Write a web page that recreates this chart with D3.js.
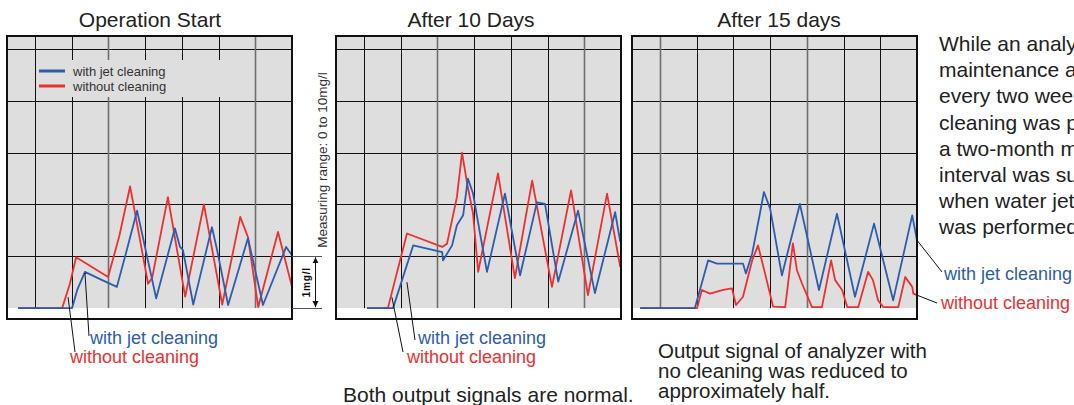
<!DOCTYPE html>
<html>
<head>
<meta charset="utf-8">
<script src="https://cdn.jsdelivr.net/npm/d3@7"></script>
<style>
  body { margin: 0; background: #fff; }
  text { font-family: "Liberation Sans", Arial, Helvetica, sans-serif; }
</style>
</head>
<body>
<script>
  // chart values (x: grid divisions, y: mg/l)
  const titles = ['Operation Start', 'After 10 Days', 'After 15 days'];
  const gridTimes = [0, 1, 2, 3, 4, 5, 6];
  const gridLevels = [1, 2, 3, 4, 5];

  const startJet = [[-0.46, 0], [1.01, 0], [1.15, 0.35], [1.36, 0.7], [1.8, 0.55], [2.23, 0.41],
    [2.5, 1.12], [2.78, 1.88], [3.3, 0.19], [3.81, 1.54], [3.95, 1.18], [4.03, 1.12], [4.31, 0.07],
    [4.82, 1.56], [4.96, 1.12], [5.26, 0.06], [5.8, 1.35], [6.21, 0.06], [6.84, 1.18], [7.0, 1.02]];
  const startNoClean = [[-0.46, 0], [0.74, 0], [0.95, 0.47], [1.12, 0.98], [1.99, 0.6], [2.3, 1.4],
    [2.59, 2.35], [3.08, 0.47], [3.19, 0.58], [3.62, 2.14], [4.09, 0.22], [4.6, 2.0], [5.1, 0.07],
    [5.59, 1.76], [5.8, 1.37], [6.08, 0.02], [6.62, 1.47], [7.0, 0.41]];

  const day10Jet = [[0.08, 0], [0.79, 0], [1.34, 1.21], [2.13, 1.08], [2.15, 0.92], [2.4, 1.21],
    [2.53, 1.6], [2.7, 1.79], [2.83, 2.5], [2.97, 2.21], [3.16, 1.44], [3.35, 0.7], [3.84, 2.21],
    [4.25, 0.63], [4.71, 2.04], [4.93, 2.01], [5.29, 0.51], [5.83, 1.88], [6.29, 0.29], [6.84, 1.85],
    [6.98, 1.28]];
  const day10NoClean = [[0.08, 0], [0.65, 0], [1.17, 1.44], [2.13, 1.18], [2.26, 1.24], [2.53, 2.14],
    [2.67, 3.0], [2.81, 2.4], [2.97, 1.82], [3.11, 0.7], [3.65, 2.6], [4.11, 0.58], [4.58, 2.46],
    [5.12, 0.41], [5.64, 2.27], [6.1, 0.25], [6.62, 2.21], [6.98, 0.79]];

  const day15Jet = [[-0.54, 0], [0.95, 0], [1.31, 0.92], [1.55, 0.86], [2.26, 0.86], [2.34, 0.67],
    [2.51, 1.05], [2.72, 1.82], [2.83, 2.24], [3.0, 1.92], [3.32, 0.63], [3.81, 2.01], [4.33, 0.35],
    [4.82, 1.82], [5.31, 0.22], [5.83, 1.63], [6.35, 0.15], [6.87, 1.79], [7.0, 1.31]];
  const day15NoClean = [[-0.54, 0], [1.01, 0], [1.14, 0.35], [1.36, 0.28], [1.72, 0.35], [1.96, 0.38],
    [2.07, 0.06], [2.26, 0.22], [2.51, 0.92], [2.67, 1.21], [2.86, 0.67], [3.08, 0.03], [3.41, 0.02],
    [3.62, 1.25], [3.73, 0.73], [3.87, 0.47], [4.14, 0.02], [4.41, 0.02], [4.66, 0.92], [4.77, 0.54],
    [4.96, 0.35], [5.1, 0.02], [5.4, 0.02], [5.67, 0.7], [5.8, 0.54], [5.94, 0.15], [6.08, 0.02],
    [6.49, 0.02], [6.68, 0.6], [6.87, 0.41], [6.9, 0.28], [7.0, 0.25]];

  const seriesNames = ['with jet cleaning', 'without cleaning'];
  const noteLines = ['While an analyzer required', 'maintenance about', 'every two weeks when no',
    'cleaning was performed,', 'a two-month maintenance', 'interval was sufficient',
    'when water jet cleaning', 'was performed.'];
  const halfLines = ['Output signal of analyzer with', 'no cleaning was reduced to', 'approximately half.'];

  const blue = '#2d5cae';
  const red = '#ee2f2f';
  const ink = '#222';

  const panels = [
    { left: 7, title: titles[0], titleX: 150, jet: startJet, no: startNoClean, grayLines: [2, 6] },
    { left: 336, title: titles[1], titleX: 471, jet: day10Jet, no: day10NoClean, grayLines: [2, 6] },
    { left: 632, title: titles[2], titleX: 779, jet: day15Jet, no: day15NoClean, grayLines: [0, 4] }
  ];

  const width = 1074, height = 405;
  const pw = 285, plotTop = 36, plotBottom = 319;

  const svg = d3.select('body').append('svg')
    .attr('width', width)
    .attr('height', height);

  svg.append('defs').append('marker')
    .attr('id', 'arrow')
    .attr('viewBox', '0 0 10 10')
    .attr('refX', 10).attr('refY', 5)
    .attr('markerWidth', 6).attr('markerHeight', 9)
    .attr('markerUnits', 'userSpaceOnUse')
    .attr('orient', 'auto-start-reverse')
    .append('path').attr('d', 'M0,0L10,5L0,10Z').attr('fill', '#111');

  const x = d3.scaleLinear().domain([-0.763, 7]).range([0, pw]);
  const y = d3.scaleLinear().domain([-0.21, 5.25]).range([plotBottom, plotTop]);
  const crisp = v => Math.round(v) + 0.5;

  const line = d3.line().x(d => x(d[0])).y(d => y(d[1]));

  panels.forEach((p, i) => {
    const g = svg.append('g').attr('transform', `translate(${p.left},0)`);

    g.append('rect')
      .attr('x', 0).attr('y', plotTop)
      .attr('width', pw).attr('height', y(0) - plotTop)
      .attr('fill', '#dedede');

    g.selectAll('.hgrid')
      .data(gridLevels)
      .join('line')
      .attr('class', 'hgrid')
      .attr('x1', 0).attr('x2', pw)
      .attr('y1', d => crisp(y(d))).attr('y2', d => crisp(y(d)))
      .attr('stroke', '#111').attr('stroke-width', 1);

    g.selectAll('.vgrid')
      .data(gridTimes)
      .join('line')
      .attr('class', 'vgrid')
      .attr('x1', d => crisp(x(d))).attr('x2', d => crisp(x(d)))
      .attr('y1', plotTop).attr('y2', y(0))
      .attr('stroke', (d, k) => p.grayLines.includes(k) ? '#6e6e6e' : '#111')
      .attr('stroke-width', (d, k) => p.grayLines.includes(k) ? 1.6 : 1);

    if (i === 0) {
      // legend patch covers the grid
      g.append('rect')
        .attr('x', 29).attr('y', 60)
        .attr('width', 194).attr('height', 37)
        .attr('fill', '#dedede');
      seriesNames.forEach((s, k) => {
        const ly = 71 + k * 15;
        g.append('line')
          .attr('x1', 32).attr('x2', 58)
          .attr('y1', ly).attr('y2', ly)
          .attr('stroke', k === 0 ? blue : red)
          .attr('stroke-width', 3);
        g.append('text')
          .attr('x', 66).attr('y', ly + 5)
          .attr('font-size', 13)
          .attr('fill', '#333')
          .text(s);
      });
    }

    g.append('path')
      .datum(p.no)
      .attr('d', line)
      .attr('fill', 'none')
      .attr('stroke', red)
      .attr('stroke-width', 1.8)
      .attr('stroke-linejoin', 'round');

    g.append('path')
      .datum(p.jet)
      .attr('d', line)
      .attr('fill', 'none')
      .attr('stroke', blue)
      .attr('stroke-width', 1.8)
      .attr('stroke-linejoin', 'round');

    g.append('rect')
      .attr('x', 0).attr('y', plotTop)
      .attr('width', pw).attr('height', plotBottom - plotTop)
      .attr('fill', 'none')
      .attr('stroke', '#111')
      .attr('stroke-width', 2);

    svg.append('text')
      .attr('x', p.titleX).attr('y', 27)
      .attr('text-anchor', 'middle')
      .attr('font-size', 21)
      .attr('fill', ink)
      .text(p.title);
  });

  // 1 mg/l scale marker between first two panels
  const p1r = panels[0].left + pw;
  [0, 1].forEach(v => {
    svg.append('line')
      .attr('x1', p1r).attr('x2', 322)
      .attr('y1', crisp(y(v))).attr('y2', crisp(y(v)))
      .attr('stroke', '#555').attr('stroke-width', 1);
  });
  svg.append('line')
    .attr('x1', 315.5).attr('x2', 315.5)
    .attr('y1', y(0) - 1).attr('y2', y(1) + 1)
    .attr('stroke', '#111').attr('stroke-width', 1)
    .attr('marker-start', 'url(#arrow)')
    .attr('marker-end', 'url(#arrow)');
  svg.append('rect')
    .attr('x', 301).attr('y', 263).attr('width', 12).attr('height', 36)
    .attr('fill', '#fff');
  svg.append('text')
    .attr('transform', `translate(310,${(y(0) + y(1)) / 2}) rotate(-90)`)
    .attr('text-anchor', 'middle')
    .attr('font-family', '"DejaVu Serif", "Liberation Serif", serif')
    .attr('font-weight', 'bold')
    .attr('font-size', 10)
    .attr('letter-spacing', 0.8)
    .attr('fill', '#111')
    .text('1mg/l');

  svg.append('text')
    .attr('transform', 'translate(327,160) rotate(-90)')
    .attr('text-anchor', 'middle')
    .attr('font-size', 13.5)
    .attr('fill', '#333')
    .text('Measuring range: 0 to 10mg/l');

  // leader lines and labels
  const notes = [
    { panel: 0, at: [1.36, 0.68], to: [89, 336], tx: 90, ty: 344, k: 0 },
    { panel: 0, at: [0.9, 0.21], to: [75, 352], tx: 70, ty: 363, k: 1 },
    { panel: 1, at: [1.17, 0.5], to: [415, 340], tx: 418, ty: 344, k: 0 },
    { panel: 1, at: [0.76, 0.21], to: [403, 352], tx: 407, ty: 363, k: 1 },
    { panel: 2, at: [7.0, 1.31], to: [942, 272], tx: 944, ty: 280, k: 0 },
    { panel: 2, at: [7.0, 0.25], to: [937, 303], tx: 941, ty: 309, k: 1 }
  ];
  notes.forEach(n => {
    const ox = panels[n.panel].left;
    svg.append('line')
      .attr('x1', ox + x(n.at[0])).attr('y1', y(n.at[1]))
      .attr('x2', n.to[0]).attr('y2', n.to[1])
      .attr('stroke', '#111').attr('stroke-width', 1);
    svg.append('text')
      .attr('x', n.tx).attr('y', n.ty)
      .attr('font-size', 18)
      .attr('fill', n.k === 0 ? blue : red)
      .text(seriesNames[n.k]);
  });

  svg.append('text')
    .attr('x', 343).attr('y', 402)
    .attr('font-size', 21)
    .attr('fill', ink)
    .text('Both output signals are normal.');

  svg.append('g').selectAll('text')
    .data(halfLines)
    .join('text')
    .attr('x', 658)
    .attr('y', (d, k) => 358 + k * 20)
    .attr('font-size', 20.5)
    .attr('fill', ink)
    .text(d => d);

  svg.append('g').selectAll('text')
    .data(noteLines)
    .join('text')
    .attr('x', 939)
    .attr('y', (d, k) => 51 + k * 26.2)
    .attr('font-size', 21)
    .attr('fill', ink)
    .text(d => d);
</script>
</body>
</html>
